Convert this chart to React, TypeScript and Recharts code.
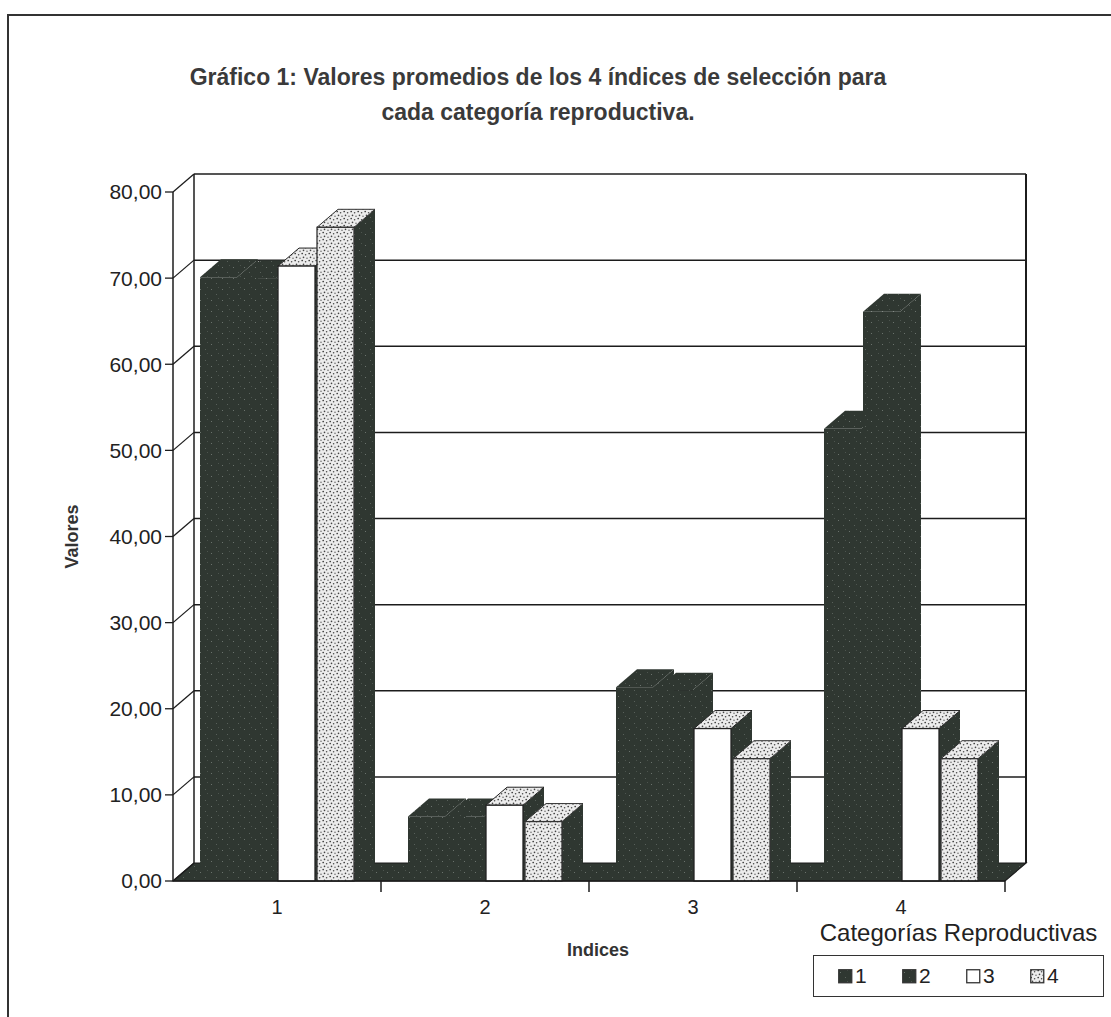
import React from 'react';
import { BarChart, Bar, XAxis, YAxis, CartesianGrid, Legend } from 'recharts';

// ---------- data ----------
const CATEGORIES = ['1', '2', '3', '4'];
const SERIES_NAMES = ['1', '2', '3', '4'];
const CAT_REP_1 = [70.1, 7.5, 22.5, 52.5];
const CAT_REP_2 = [70.0, 7.5, 22.1, 66.1];
const CAT_REP_3 = [71.4, 8.8, 17.7, 17.7];
const CAT_REP_4 = [75.9, 6.9, 14.2, 14.2];
const Y_TICKS = [0, 10, 20, 30, 40, 50, 60, 70, 80];

const TITLE_1 = 'Gráfico 1: Valores promedios de los 4 índices de selección para';
const TITLE_2 = 'cada categoría reproductiva.';
const X_TITLE = 'Indices';
const Y_TITLE = 'Valores';
const LEGEND_TITLE = 'Categorías Reproductivas';

const data = CATEGORIES.map((c, i) => ({
  indice: c,
  s1: CAT_REP_1[i],
  s2: CAT_REP_2[i],
  s3: CAT_REP_3[i],
  s4: CAT_REP_4[i],
}));

// ---------- layout / style ----------
const W = 1111;
const H = 1017;
const PLOT_LEFT = 173;
const PLOT_TOP = 192;
const PLOT_RIGHT = 1005;
const PLOT_BOTTOM = 881;
const XAXIS_H = 30;
const PLOT_W = PLOT_RIGHT - PLOT_LEFT;
const BAND = PLOT_W / CATEGORIES.length;
const DX = 21;
const DY = -18;
const FONT = '"Liberation Sans", Arial, Helvetica, sans-serif';
const INK = '#1c1c1c';
const DARK = '#2f3731';

const SWATCH_FILLS = ['url(#darkTex)', 'url(#darkTex)', '#ffffff', 'url(#stipTex)'];

const make3D = (front: string, top: string, side: string, outline: string | null) => (p: any) => {
  const { x, y, width, height } = p;
  if (x == null || y == null || !width || height == null) return <g />;
  const topPts = `${x},${y} ${x + DX},${y + DY} ${x + width + DX},${y + DY} ${x + width},${y}`;
  const sidePts = `${x + width},${y} ${x + width + DX},${y + DY} ${x + width + DX},${y + height + DY} ${x + width},${y + height}`;
  return (
    <g>
      <polygon points={sidePts} fill={side} />
      <polygon points={topPts} fill={top} stroke={outline || 'none'} strokeWidth={1} />
      <rect x={x} y={y} width={width} height={height} fill={front} stroke={outline || 'none'} strokeWidth={1.3} />
    </g>
  );
};

const shapeDark = make3D('url(#darkTex)', 'url(#darkTex)', 'url(#darkTex)', null);
const shapeWhite = make3D('#ffffff', 'url(#stipTex)', 'url(#darkTex)', '#222');
const shapeStip = make3D('url(#stipTex)', 'url(#stipTex)', 'url(#darkTex)', '#333');

const renderGridLine = (p: any) => {
  const { x1, x2, y1, index } = p;
  const top = p.y ?? PLOT_TOP;
  const bottom = top + (p.height ?? PLOT_BOTTOM - PLOT_TOP);
  const isFloor = Math.abs(y1 - bottom) < 0.5;
  const isTop = Math.abs(y1 - top) < 0.5;
  return (
    <g key={`gl-${index}`}>
      {isFloor && (
        <polygon
          points={`${x1},${y1} ${x2},${y1} ${x2 + DX},${y1 + DY} ${x1 + DX},${y1 + DY}`}
          fill="url(#darkTex)"
          stroke={INK}
          strokeWidth={1.2}
        />
      )}
      <line x1={x1} y1={y1} x2={x1 + DX} y2={y1 + DY} stroke={INK} strokeWidth={1.3} />
      {!isFloor && <line x1={x1 + DX} y1={y1 + DY} x2={x2 + DX} y2={y1 + DY} stroke={INK} strokeWidth={1.5} />}
      {isTop && (
        <g>
          <line x1={x1 + DX} y1={y1 + DY} x2={x1 + DX} y2={bottom + DY} stroke={INK} strokeWidth={1.5} />
          <line x1={x2 + DX} y1={y1 + DY} x2={x2 + DX} y2={bottom + DY} stroke={INK} strokeWidth={2} />
        </g>
      )}
    </g>
  );
};

const renderXTick = (p: any) => {
  const { x, payload } = p;
  return (
    <g>
      <line x1={x + BAND / 2} y1={PLOT_BOTTOM} x2={x + BAND / 2} y2={PLOT_BOTTOM + 11} stroke={INK} strokeWidth={1.5} />
      <text x={x} y={PLOT_BOTTOM + 33} textAnchor="middle" fontFamily={FONT} fontSize={20} fill="#222">
        {payload.value}
      </text>
    </g>
  );
};

const fmt = (v: number) => v.toFixed(2).replace('.', ',');

const renderLegend = (props: any) => {
  const payload = props.payload || [];
  return (
    <div style={{ width: 291, fontFamily: FONT, color: '#222' }}>
      <div style={{ textAlign: 'center', fontSize: 24, lineHeight: '26px', whiteSpace: 'nowrap' }}>{LEGEND_TITLE}</div>
      <div
        style={{
          marginTop: 9,
          border: '1.5px solid #333',
          height: 42,
          boxSizing: 'border-box',
          display: 'flex',
          alignItems: 'center',
          paddingLeft: 24,
        }}
      >
        {payload.map((e: any, i: number) => (
          <div key={`lg-${i}`} style={{ display: 'flex', alignItems: 'center', width: 64 }}>
            <svg width={15} height={15} style={{ display: 'block' }}>
              <rect x={0.75} y={0.75} width={13} height={13} fill={SWATCH_FILLS[i]} stroke="#333" strokeWidth={1.3} />
            </svg>
            <span style={{ fontSize: 21, marginLeft: 2, lineHeight: '22px' }}>{e.value}</span>
          </div>
        ))}
      </div>
    </div>
  );
};

export default function App() {
  return (
    <div style={{ position: 'absolute', left: 0, top: 0, width: W, height: H, background: '#fff', overflow: 'hidden' }}>
      <div
        style={{
          position: 'absolute',
          left: 7,
          top: 14,
          width: W,
          height: H,
          borderLeft: '2px solid #333',
          borderTop: '2px solid #333',
        }}
      />
      <div
        style={{
          position: 'absolute',
          left: 0,
          top: 60,
          width: 1076,
          textAlign: 'center',
          fontFamily: FONT,
          fontWeight: 'bold',
          fontSize: 23,
          lineHeight: '35px',
          color: '#3a3a3a',
          whiteSpace: 'nowrap',
        }}
      >
        <div>{TITLE_1}</div>
        <div>{TITLE_2}</div>
      </div>
      <div style={{ position: 'absolute', left: 0, top: 0 }}>
        <BarChart
          width={W}
          height={H}
          data={data}
          margin={{ top: PLOT_TOP, right: W - PLOT_RIGHT, bottom: H - PLOT_BOTTOM - XAXIS_H, left: 0 }}
          barSize={37}
          barGap={2}
        >
          <defs>
            <pattern id="darkTex" width="11" height="11" patternUnits="userSpaceOnUse">
              <rect width="11" height="11" fill={DARK} />
              <rect x="2" y="3" width="1" height="1" fill="#6a726c" />
              <rect x="7" y="8" width="1" height="1" fill="#58605a" />
              <rect x="9" y="1" width="1" height="1" fill="#4c544e" />
            </pattern>
            <pattern id="stipTex" width="7" height="7" patternUnits="userSpaceOnUse">
              <rect width="7" height="7" fill="#ececec" />
              <circle cx="1.2" cy="1.5" r="0.85" fill="#3a3a3a" />
              <circle cx="4.6" cy="2.8" r="0.8" fill="#4a4a4a" />
              <circle cx="2.5" cy="5.4" r="0.8" fill="#444" />
              <circle cx="6.0" cy="6.2" r="0.7" fill="#555" />
            </pattern>
          </defs>
          <CartesianGrid vertical={false} horizontal={renderGridLine} />
          <XAxis
            dataKey="indice"
            height={XAXIS_H}
            interval={0}
            axisLine={{ stroke: INK, strokeWidth: 1.5 }}
            tickLine={false}
            tick={renderXTick}
            label={{
              content: (lp: any) => {
                const vb = lp.viewBox || { x: PLOT_LEFT, width: PLOT_W };
                return (
                  <text
                    x={vb.x + vb.width / 2 + 9}
                    y={PLOT_BOTTOM + 75}
                    textAnchor="middle"
                    fontFamily={FONT}
                    fontWeight="bold"
                    fontSize={18}
                    fill="#333"
                  >
                    {X_TITLE}
                  </text>
                );
              },
            }}
          />
          <YAxis
            width={PLOT_LEFT}
            domain={[0, 80]}
            ticks={Y_TICKS}
            interval={0}
            tickFormatter={fmt}
            tickSize={8}
            tickMargin={3}
            axisLine={{ stroke: INK, strokeWidth: 1.5 }}
            tickLine={{ stroke: INK, strokeWidth: 1.3 }}
            tick={{ fontFamily: FONT, fontSize: 21, fill: '#222' }}
            label={{
              content: (lp: any) => {
                const vb = lp.viewBox || { y: PLOT_TOP, height: PLOT_BOTTOM - PLOT_TOP };
                const cy = vb.y + vb.height / 2;
                return (
                  <text
                    x={72}
                    y={cy}
                    transform={`rotate(-90 72 ${cy})`}
                    textAnchor="middle"
                    dominantBaseline="central"
                    fontFamily={FONT}
                    fontWeight="bold"
                    fontSize={18}
                    fill="#333"
                  >
                    {Y_TITLE}
                  </text>
                );
              },
            }}
          />
          <Legend
            layout="vertical"
            align="center"
            verticalAlign="middle"
            content={renderLegend}
            wrapperStyle={{ left: 813, top: 920, width: 291, height: 77 }}
          />
          <Bar dataKey="s1" name={SERIES_NAMES[0]} fill={DARK} shape={shapeDark} isAnimationActive={false} />
          <Bar dataKey="s2" name={SERIES_NAMES[1]} fill={DARK} shape={shapeDark} isAnimationActive={false} />
          <Bar dataKey="s3" name={SERIES_NAMES[2]} fill="#ffffff" shape={shapeWhite} isAnimationActive={false} />
          <Bar dataKey="s4" name={SERIES_NAMES[3]} fill="#cccccc" shape={shapeStip} isAnimationActive={false} />
        </BarChart>
      </div>
    </div>
  );
}
